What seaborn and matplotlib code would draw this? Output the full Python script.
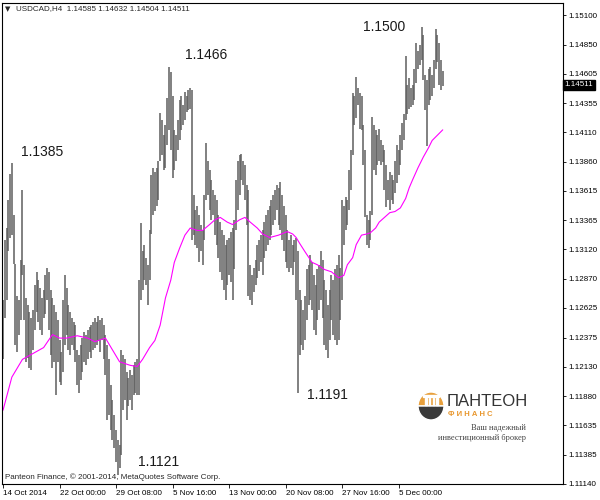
import numpy as np
import pandas as pd
import seaborn as sns
import matplotlib.pyplot as plt
from matplotlib.patches import Wedge, Rectangle

# H4 bars, USDCAD (high / low per bar)
bar_high = [
    1.1269, 1.1320, 1.1330, 1.1354, 1.1376, 1.1385, 1.1341, 1.1300, 1.1273, 1.1269,
    1.1303, 1.1362, 1.1299, 1.1271, 1.1265, 1.1259, 1.1254, 1.1261, 1.1282, 1.1293,
    1.1286, 1.1279, 1.1271, 1.1278, 1.1290, 1.1296, 1.1293, 1.1278, 1.1271, 1.1265,
    1.1259, 1.1252, 1.1235, 1.1225, 1.1269, 1.1290, 1.1279, 1.1265, 1.1259, 1.1254,
    1.1251, 1.1248, 1.1227, 1.1223, 1.1231, 1.1237, 1.1242, 1.1240, 1.1244, 1.1246,
    1.1248, 1.1251, 1.1254, 1.1251, 1.1256, 1.1252, 1.1254, 1.1248, 1.1240, 1.1231,
    1.1219, 1.1197, 1.1185, 1.1172, 1.1159, 1.1151, 1.1147, 1.1227, 1.1223, 1.1219,
    1.1208, 1.1203, 1.1210, 1.1206, 1.1214, 1.1217, 1.1219, 1.1286, 1.1334, 1.1311,
    1.1316, 1.1305, 1.1299, 1.1328, 1.1375, 1.1381, 1.1377, 1.1381, 1.1387, 1.1427,
    1.1421, 1.1409, 1.1417, 1.1440, 1.1466, 1.1462, 1.1442, 1.1413, 1.1409, 1.1421,
    1.1438, 1.1442, 1.1434, 1.1445, 1.1442, 1.1447, 1.1448, 1.1447, 1.1358, 1.1345,
    1.1349, 1.1341, 1.1333, 1.1328, 1.1358, 1.1402, 1.1387, 1.1379, 1.1371, 1.1362,
    1.1358, 1.1354, 1.1341, 1.1335, 1.1328, 1.1324, 1.1316, 1.1320, 1.1322, 1.1327,
    1.1330, 1.1337, 1.1371, 1.1387, 1.1392, 1.1393, 1.1387, 1.1383, 1.1366, 1.1362,
    1.1299, 1.1290, 1.1296, 1.1303, 1.1316, 1.1320, 1.1324, 1.1328, 1.1335, 1.1341,
    1.1345, 1.1349, 1.1354, 1.1358, 1.1362, 1.1366, 1.1364, 1.1369, 1.1358, 1.1349,
    1.1341, 1.1328, 1.1320, 1.1324, 1.1316, 1.1320, 1.1322, 1.1311, 1.1278, 1.1269,
    1.1261, 1.1273, 1.1295, 1.1299, 1.1307, 1.1301, 1.1290, 1.1282, 1.1295, 1.1299,
    1.1311, 1.1303, 1.1286, 1.1278, 1.1265, 1.1278, 1.1290, 1.1286, 1.1295, 1.1299,
    1.1307, 1.1296, 1.1354, 1.1349, 1.1356, 1.1354, 1.1379, 1.1396, 1.1444, 1.1442,
    1.1458, 1.1448, 1.1444, 1.1442, 1.1417, 1.1396, 1.1341, 1.1337, 1.1344, 1.1424,
    1.1417, 1.1413, 1.1409, 1.1414, 1.1404, 1.1400, 1.1396, 1.1383, 1.1371, 1.1377,
    1.1375, 1.1371, 1.1387, 1.1400, 1.1396, 1.1409, 1.1419, 1.1426, 1.1475, 1.1451,
    1.1457, 1.1448, 1.1451, 1.1464, 1.1486, 1.1480, 1.1485, 1.1500, 1.1493, 1.1459,
    1.1455, 1.1464, 1.1466, 1.1459, 1.1472, 1.1498, 1.1493, 1.1486, 1.1472, 1.1463,
]
bar_low = [
    1.1219, 1.1254, 1.1269, 1.1311, 1.1322, 1.1324, 1.1300, 1.1231, 1.1225, 1.1240,
    1.1252, 1.1290, 1.1252, 1.1217, 1.1220, 1.1212, 1.1210, 1.1227, 1.1244, 1.1259,
    1.1251, 1.1244, 1.1240, 1.1254, 1.1257, 1.1269, 1.1244, 1.1223, 1.1212, 1.1217,
    1.1189, 1.1217, 1.1200, 1.1197, 1.1208, 1.1231, 1.1240, 1.1227, 1.1223, 1.1231,
    1.1227, 1.1217, 1.1197, 1.1191, 1.1202, 1.1208, 1.1217, 1.1214, 1.1219, 1.1225,
    1.1220, 1.1227, 1.1229, 1.1231, 1.1235, 1.1225, 1.1235, 1.1219, 1.1206, 1.1168,
    1.1172, 1.1159, 1.1151, 1.1144, 1.1132, 1.1121, 1.1127, 1.1138, 1.1176, 1.1185,
    1.1168, 1.1180, 1.1185, 1.1176, 1.1189, 1.1191, 1.1189, 1.1189, 1.1269, 1.1278,
    1.1286, 1.1282, 1.1265, 1.1286, 1.1325, 1.1341, 1.1344, 1.1349, 1.1354, 1.1387,
    1.1392, 1.1379, 1.1381, 1.1400, 1.1413, 1.1396, 1.1372, 1.1379, 1.1387, 1.1396,
    1.1404, 1.1413, 1.1417, 1.1421, 1.1428, 1.1430, 1.1431, 1.1320, 1.1324, 1.1316,
    1.1313, 1.1301, 1.1311, 1.1299, 1.1320, 1.1354, 1.1358, 1.1345, 1.1337, 1.1341,
    1.1324, 1.1316, 1.1305, 1.1293, 1.1286, 1.1278, 1.1269, 1.1282, 1.1290, 1.1284,
    1.1269, 1.1295, 1.1328, 1.1345, 1.1358, 1.1371, 1.1366, 1.1354, 1.1333, 1.1273,
    1.1269, 1.1265, 1.1276, 1.1282, 1.1288, 1.1294, 1.1301, 1.1290, 1.1305, 1.1311,
    1.1316, 1.1320, 1.1324, 1.1333, 1.1337, 1.1345, 1.1333, 1.1328, 1.1320, 1.1311,
    1.1301, 1.1296, 1.1293, 1.1296, 1.1290, 1.1301, 1.1269, 1.1191, 1.1223, 1.1231,
    1.1227, 1.1235, 1.1252, 1.1265, 1.1269, 1.1261, 1.1244, 1.1240, 1.1252, 1.1261,
    1.1269, 1.1254, 1.1231, 1.1227, 1.1220, 1.1235, 1.1252, 1.1240, 1.1235, 1.1231,
    1.1235, 1.1252, 1.1269, 1.1316, 1.1328, 1.1333, 1.1345, 1.1362, 1.1392, 1.1417,
    1.1423, 1.1434, 1.1414, 1.1413, 1.1383, 1.1339, 1.1316, 1.1313, 1.1320, 1.1341,
    1.1379, 1.1375, 1.1383, 1.1387, 1.1383, 1.1386, 1.1362, 1.1348, 1.1354, 1.1345,
    1.1354, 1.1350, 1.1360, 1.1368, 1.1375, 1.1383, 1.1396, 1.1404, 1.1421, 1.1426,
    1.1431, 1.1432, 1.1434, 1.1438, 1.1453, 1.1464, 1.1468, 1.1472, 1.1455, 1.1430,
    1.1399, 1.1434, 1.1438, 1.1442, 1.1448, 1.1464, 1.1470, 1.1451, 1.1447, 1.1450,
]

# moving average (magenta line), sampled at these bars
ma_bar = [0, 5, 11, 17, 23, 28, 32, 36, 42, 48, 52, 58, 62, 66, 72, 76, 79, 83, 86, 89,
          92, 95, 97, 100, 103, 106, 110, 113, 117, 120, 123, 127, 130, 134, 137, 140,
          144, 147, 151, 156, 161, 164, 166, 168, 171, 175, 178, 182, 186, 190, 193,
          195, 198, 200, 203, 206, 208, 211, 213, 216, 219, 222, 225, 228, 230, 232,
          235, 238, 241, 243, 249]
ma_price = [1.1176, 1.1204, 1.1219, 1.1224, 1.1229, 1.1240, 1.1237, 1.1237, 1.1239,
            1.1237, 1.1234, 1.1237, 1.1227, 1.1217, 1.1214, 1.1213, 1.1219, 1.1229,
            1.1235, 1.1248, 1.1271, 1.1286, 1.1301, 1.1313, 1.1324, 1.1330, 1.1328,
            1.1328, 1.1333, 1.1337, 1.1339, 1.1335, 1.1333, 1.1337, 1.1339, 1.1335,
            1.1330, 1.1325, 1.1322, 1.1324, 1.1327, 1.1325, 1.1322, 1.1317, 1.1310,
            1.1301, 1.1299, 1.1295, 1.1293, 1.1288, 1.1290, 1.1299, 1.1305, 1.1316,
            1.1324, 1.1325, 1.1326, 1.1330, 1.1335, 1.1339, 1.1343, 1.1344, 1.1347,
            1.1355, 1.1364, 1.1371, 1.1381, 1.1390, 1.1398, 1.1404, 1.1413]

price_ticks = [1.15100, 1.14850, 1.14605, 1.14355, 1.14110, 1.13860, 1.13615, 1.13365,
               1.13120, 1.12870, 1.12625, 1.12375, 1.12130, 1.11880, 1.11635, 1.11385,
               1.11140]
date_ticks = [0, 32, 64, 96, 128, 160, 192, 224]
date_labels = ["14 Oct 2014", "22 Oct 00:00", "29 Oct 08:00", "5 Nov 16:00",
               "13 Nov 00:00", "20 Nov 08:00", "27 Nov 16:00", "5 Dec 00:00"]

peak_text = ["1.1385", "1.1466", "1.1121", "1.1191", "1.1500"]
peak_bar = [22, 115, 88, 183.5, 216]
peak_price = [1.1394, 1.1476, 1.1132, 1.1189, 1.1500]

last_price = 1.14511
header = "USDCAD,H4  1.14585 1.14632 1.14504 1.14511"

sns.set_style("white")
plt.rcParams['font.family'] = ['Liberation Sans', 'DejaVu Sans']

fig = plt.figure(figsize=(6, 5), dpi=100)
ax = fig.add_axes([2 / 600, 16 / 500, 561 / 600, 481 / 500])

bars = pd.DataFrame({"bar": np.arange(len(bar_high)), "high": bar_high, "low": bar_low})
ax.vlines(bars["bar"], bars["low"], bars["high"], color="#5e5e5e", lw=1.1)

ma = pd.DataFrame({"bar": ma_bar, "price": ma_price})
sns.lineplot(data=ma, x="bar", y="price", color="#ff00ff", lw=0.8, ax=ax)

for t, xb, yp in zip(peak_text, peak_bar, peak_price):
    ax.text(xb, yp, t, fontsize=10, ha="center", va="center", color="#1a1a1a")

ax.set_xlim(-0.57, 317.1)
ax.set_ylim(1.11137, 1.15202)
ax.set_xlabel("")
ax.set_ylabel("")

ax.yaxis.tick_right()
ax.set_yticks(price_ticks)
ax.set_yticklabels([f"{p:.5f}" for p in price_ticks])
ax.set_xticks(date_ticks)
ax.set_xticklabels(date_labels)
for lab in ax.get_xticklabels():
    lab.set_ha("left")
ax.tick_params(axis="y", which="both", right=True, left=False, direction="out",
               length=2.5, width=0.6, labelsize=5.8, pad=1.5, colors="black")
ax.tick_params(axis="x", which="both", bottom=True, direction="out",
               length=3, width=0.6, labelsize=5.8, pad=1.5, colors="black")
for s in ax.spines.values():
    s.set_color("black")
    s.set_linewidth(0.8)

ax.text(1.003, last_price, f"{last_price:.5f}", transform=ax.get_yaxis_transform(),
        ha="left", va="center", fontsize=5.8, color="white",
        bbox=dict(facecolor="black", edgecolor="black", pad=1.2))

fig.text(5 / 600, 1 - 9 / 500, "▼", fontsize=5, va="center", family="DejaVu Sans")
fig.text(16 / 600, 1 - 9 / 500, header, fontsize=5.8, va="center")
fig.text(5 / 600, 1 - 477 / 500, "Panteon Finance, © 2001-2014, MetaQuotes Software Corp.",
         fontsize=5.8, va="center")

# logo
lax = fig.add_axes([418 / 600, 1 - 420 / 500, 26 / 600, 28 / 500])
lax.set_xlim(0, 1)
lax.set_ylim(0, 1)
lax.axis("off")
lax.add_patch(Wedge((0.5, 0.5), 0.5, 0, 180, facecolor="#e8a03c"))
lax.add_patch(Wedge((0.5, 0.5), 0.5, 180, 360, facecolor="#3a3a3a"))
for cx in [0.28, 0.42, 0.56, 0.70]:
    lax.add_patch(Rectangle((cx, 0.52), 0.05, 0.28, facecolor="white"))
lax.add_patch(Rectangle((0.2, 0.82), 0.6, 0.06, facecolor="white"))

fig.text(447 / 600, 1 - 402 / 500, "ПАНТЕОН", fontsize=12, va="center", color="#333333")
fig.text(448 / 600, 1 - 414 / 500, "Ф И Н А Н С", fontsize=5.5, va="center",
         color="#e8962c", fontweight="bold")
fig.text(526 / 600, 1 - 428 / 500, "Ваш надежный", fontsize=6, va="center", ha="right",
         color="#444444", family="Liberation Serif")
fig.text(526 / 600, 1 - 438 / 500, "инвестиционный брокер", fontsize=6, va="center",
         ha="right", color="#444444", family="Liberation Serif")

fig.savefig("out.png", dpi=100)
